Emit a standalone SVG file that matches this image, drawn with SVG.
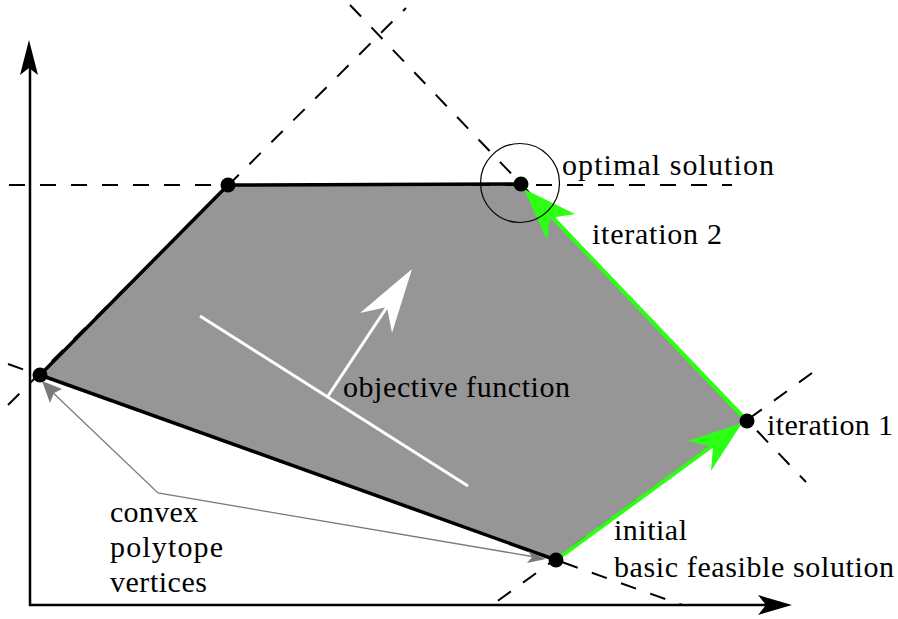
<svg xmlns="http://www.w3.org/2000/svg" width="898" height="619" viewBox="0 0 898 619">
<style>
.dash{stroke:#000;stroke-width:2;stroke-dasharray:16 15;fill:none}
.edge{stroke:#000;stroke-width:3.5;fill:none;stroke-linecap:round}
.green{stroke:#2cff14;stroke-width:4;fill:none}
.gfill{fill:#2cff14}
.dot{fill:#000}
.lbl{font-family:'Liberation Serif','Times New Roman',serif;font-size:30px;fill:#000}
.gray{stroke:#7a7a7a;stroke-width:1.3;fill:none}
</style>
<rect width="898" height="619" fill="#fff"/>
<g id="polytope">
<polygon points="40,375 228,185 521,184 747,421 556,560" fill="#969696"/>
</g>
<g id="constraints">
<line class="dash" x1="9" y1="185" x2="732" y2="185"/>
<line class="dash" x1="8" y1="405" x2="406" y2="8"/>
<line class="dash" x1="350" y1="5" x2="806" y2="482"/>
<line class="dash" x1="812" y1="373" x2="488" y2="608"/>
<line class="dash" x1="8" y1="364" x2="682" y2="605"/>
</g>
<g id="axes">
<line x1="30" y1="606" x2="30" y2="65" stroke="#000" stroke-width="2.5"/>
<polygon points="29,40 38,75 29,68 20,75" fill="#000"/>
<line x1="29" y1="605" x2="770" y2="605" stroke="#000" stroke-width="2.5"/>
<polygon points="792,605 758,595 766,605 758,615" fill="#000"/>
</g>
<g id="edges">
<polyline class="edge" points="556,560 40,375 228,185 521,184"/>
<line class="green" x1="556" y1="560" x2="712" y2="446"/>
<line class="green" x1="747" y1="421" x2="551" y2="216"/>
</g>
<g id="iter-arrows">
<polygon class="gfill" points="742,423 688,441 713,447 711,471"/>
<polygon class="gfill" points="524,189 575,214 550,218 547,240"/>
</g>
<g id="objective">
<line x1="200" y1="316" x2="468" y2="486" stroke="#fff" stroke-width="3"/>
<line x1="328" y1="396" x2="387" y2="307" stroke="#fff" stroke-width="3"/>
<polygon points="412,269 392,333 387,307 360,313" fill="#fff"/>
<text class="lbl" x="343" y="397" textLength="227">objective function</text>
</g>
<g id="annotation">
<polyline class="gray" points="48,388 158,493 535,557"/>
<polygon points="42,381 62,389 54,393 50,403" fill="#7a7a7a"/>
<polygon points="546,559 527,563 532,557 528,551" fill="#7a7a7a"/>
<text class="lbl" x="110" y="522" textLength="88">convex</text>
<text class="lbl" x="110" y="557" textLength="113">polytope</text>
<text class="lbl" x="110" y="592" textLength="97">vertices</text>
</g>
<g id="vertices">
<circle class="dot" cx="40" cy="375" r="7.5"/>
<circle class="dot" cx="228" cy="185" r="7.5"/>
<circle class="dot" cx="521" cy="184" r="7.5"/>
<circle class="dot" cx="747" cy="421" r="7.5"/>
<circle class="dot" cx="556" cy="560" r="7.5"/>
<circle cx="520" cy="183" r="39.5" fill="none" stroke="#000" stroke-width="1.2"/>
</g>
<g id="labels">
<text class="lbl" x="562" y="175" textLength="212">optimal solution</text>
<text class="lbl" x="592" y="244" textLength="130">iteration 2</text>
<text class="lbl" x="767" y="435" textLength="126">iteration 1</text>
<text class="lbl" x="614" y="540" textLength="73">initial</text>
<text class="lbl" x="614" y="577" textLength="280">basic feasible solution</text>
</g>
</svg>
